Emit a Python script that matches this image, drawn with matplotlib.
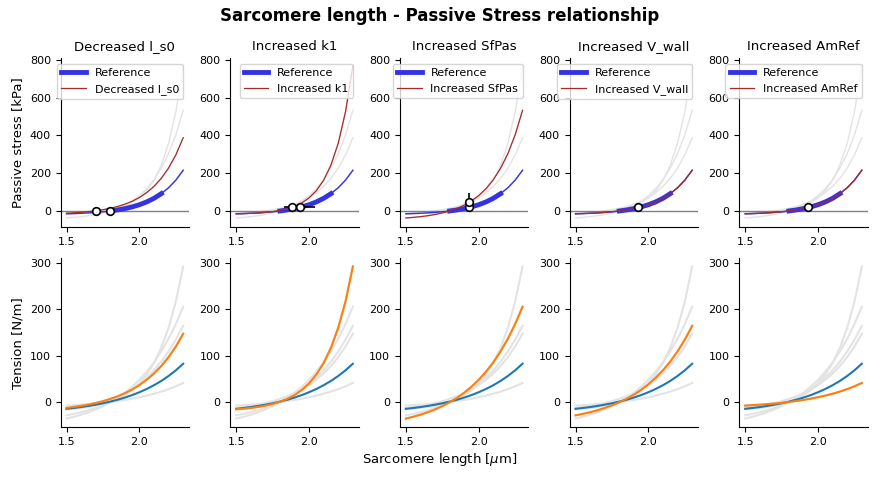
import numpy as np
import matplotlib
matplotlib.use('Agg')
import matplotlib.pyplot as plt

# sarcomere length grid [um]
ls = [1.50, 1.55, 1.60, 1.65, 1.70, 1.75, 1.80, 1.85, 1.90, 1.95,
      2.00, 2.05, 2.10, 2.15, 2.20, 2.25, 2.30]

# passive stress [kPa]
stress_ref = [-15.0, -13.8, -12.2, -10.2, -7.6, -4.3, 0.0, 5.5, 12.5, 21.6,
              33.2, 48.1, 67.2, 91.8, 123.3, 163.8, 215.8]
stress_ls0 = [-11.8, -9.7, -7.0, -3.5, 1.0, 6.8, 14.2, 23.7, 35.9, 51.5,
              71.6, 97.5, 130.6, 173.2, 227.9, 298.1, 388.2]
stress_k1 = [-15.0, -14.0, -12.6, -10.6, -7.6, -3.4, 2.7, 11.6, 24.4, 42.8,
             69.5, 107.9, 163.5, 243.8, 359.7, 527.0, 768.8]
stress_sfpas = [-37.1, -34.1, -30.1, -25.2, -18.8, -10.6, 0.0, 13.6, 30.9, 53.4,
                82.0, 118.8, 166.0, 226.7, 304.6, 404.6, 533.0]
stress_vwall = [-15.0, -13.8, -12.2, -10.2, -7.6, -4.3, 0.0, 5.5, 12.5, 21.6,
                33.2, 48.1, 67.2, 91.8, 123.3, 163.8, 215.8]
stress_amref = [-15.0, -13.8, -12.2, -10.2, -7.6, -4.3, 0.0, 5.5, 12.5, 21.6,
                33.2, 48.1, 67.2, 91.8, 123.3, 163.8, 215.8]

# wall tension [N/m]
tension_ref = [-14.0, -12.2, -10.2, -7.8, -5.1, -2.1, 1.5, 5.5, 10.2, 15.5,
               21.7, 28.7, 36.8, 46.0, 56.7, 68.9, 82.9]
tension_ls0 = [-12.0, -10.0, -7.6, -4.8, -1.5, 2.5, 7.2, 12.8, 19.6, 27.6,
               37.1, 48.5, 62.0, 78.1, 97.4, 120.2, 147.5]
tension_k1 = [-15.0, -13.8, -12.2, -10.1, -7.3, -3.7, 1.1, 7.4, 15.6, 26.5,
              40.9, 59.8, 84.6, 117.4, 160.5, 217.2, 291.9]
tension_sfpas = [-35.0, -31.1, -26.6, -21.4, -15.3, -8.2, 0.0, 9.5, 20.6, 33.5,
                 48.5, 65.9, 86.1, 109.6, 136.9, 168.6, 205.4]
tension_vwall = [-28.0, -24.9, -21.3, -17.1, -12.2, -6.6, 0.0, 7.6, 16.5, 26.8,
                 38.8, 52.7, 68.9, 87.7, 109.5, 134.9, 164.3]
tension_amref = [-7.0, -6.1, -5.1, -3.9, -2.6, -1.1, 0.8, 2.8, 5.1, 7.8,
                 10.9, 14.4, 18.4, 23.0, 28.4, 34.5, 41.5]

titles = ['Decreased l_s0', 'Increased k1', 'Increased SfPas',
          'Increased V_wall', 'Increased AmRef']
stress_var = [stress_ls0, stress_k1, stress_sfpas, stress_vwall, stress_amref]
tension_var = [tension_ls0, tension_k1, tension_sfpas, tension_vwall, tension_amref]

# measured points per panel (ls, stress, ls error, stress error)
pts_x = [[1.70, 1.80], [1.885, 1.934], [1.93, 1.93], [1.93], [1.93]]
pts_y = [[0, 0], [20, 20], [20, 49], [20], [20]]
pts_xerr = [[0, 0], [0, 0.104], [0, 0], [0], [0]]
pts_yerr = [[0, 0], [0, 0], [0, 48], [0], [0]]

# fitted range of the reference curve
fit_lo, fit_hi = 1.78, 2.15

ls = np.array(ls)
fit_mask = (ls >= fit_lo) & (ls <= fit_hi)

fig, axes = plt.subplots(2, 5, figsize=(8.8, 4.8), dpi=100)
plt.subplots_adjust(left=0.069, right=0.986, bottom=0.11, top=0.879,
                    wspace=0.322, hspace=0.185)

for i in range(5):
    ax = axes[0, i]
    for s in stress_var:
        ax.plot(ls, s, color='#e3e3e3', lw=1, zorder=1)
    ax.axhline(0, color='grey', lw=1, zorder=2)
    ref = np.array(stress_ref)
    ax.plot(ls, ref, color='#3333e6', lw=1, zorder=3)
    ax.plot(ls[fit_mask], ref[fit_mask], color='#3333e6', lw=3.5,
            label='Reference', zorder=3)
    ax.plot(ls, stress_var[i], color='#a52a2a', lw=0.9, label=titles[i], zorder=4)
    ax.errorbar(pts_x[i], pts_y[i], xerr=pts_xerr[i], yerr=pts_yerr[i],
                fmt='o', mfc='white', mec='black', ms=5.5, mew=1.2,
                ecolor='black', elinewidth=1.2, zorder=5)
    ax.set_title(titles[i], fontsize=9.5)
    ax.set_ylim(-85, 810)
    ax.set_yticks([0, 200, 400, 600, 800])
    ax.legend(loc='upper right', fontsize=8, handlelength=2.2)

    ax = axes[1, i]
    for t in tension_var:
        ax.plot(ls, t, color='#e3e3e3', lw=1.5, zorder=1)
    ax.plot(ls, tension_ref, color='C0', lw=1.5, zorder=3)
    ax.plot(ls, tension_var[i], color='C1', lw=1.5, zorder=4)
    ax.set_ylim(-53.5, 309.5)
    ax.set_yticks([0, 100, 200, 300])

for ax in axes.flat:
    ax.set_xlim(1.46, 2.34)
    ax.set_xticks([1.5, 2.0])
    ax.spines['top'].set_visible(False)
    ax.spines['right'].set_visible(False)
    ax.tick_params(labelsize=8)

axes[0, 0].set_ylabel('Passive stress [kPa]', fontsize=9.5)
axes[1, 0].set_ylabel('Tension [N/m]', fontsize=9.5)
fig.suptitle('Sarcomere length - Passive Stress relationship',
             fontsize=12, fontweight='bold', y=0.985)
fig.supxlabel(r'Sarcomere length [$\mu$m]', fontsize=9.5, y=0.025)

plt.savefig('out.png', dpi=100)
